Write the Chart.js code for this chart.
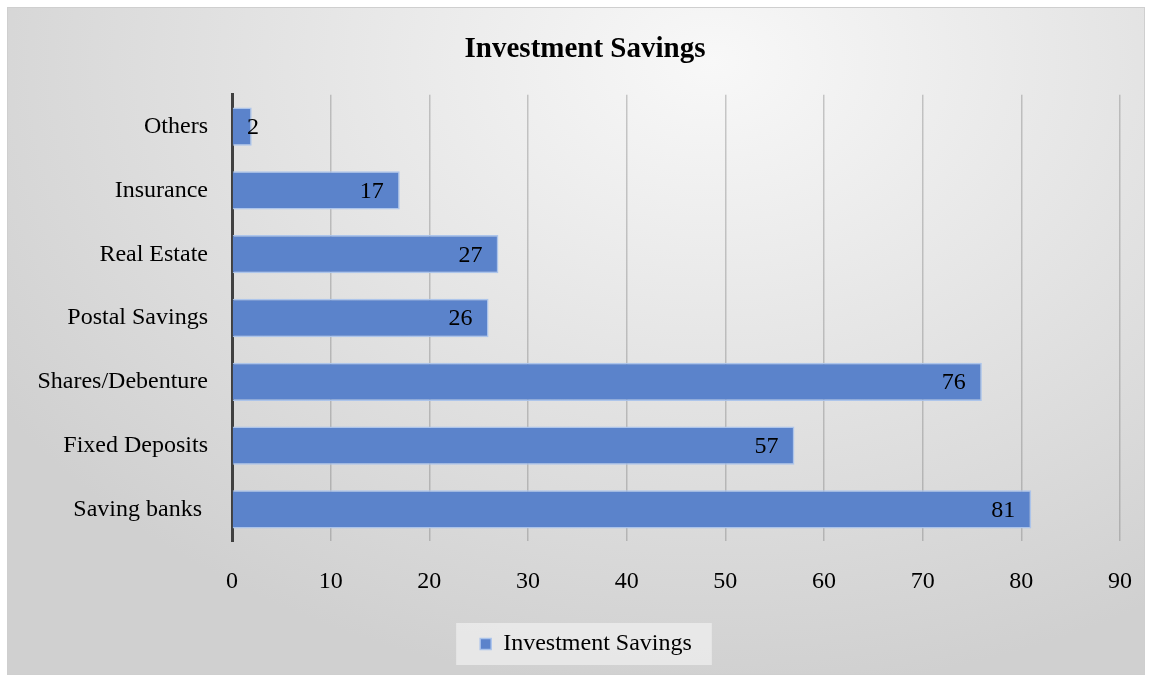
<!DOCTYPE html>
<html>
<head>
<meta charset="utf-8">
<script src="https://cdn.jsdelivr.net/npm/chart.js@4/dist/chart.umd.min.js"></script>
<style>
  html, body { margin:0; padding:0; background:#fff; }
  #wrap {
    position:absolute; left:7px; top:7px; width:1138px; height:668px;
    border:1px solid #cfcfcf; box-sizing:border-box;
    background: radial-gradient(ellipse 75% 95% at 62% 8%, #f8f8f8 0%, #e6e6e6 45%, #d0d0d0 100%);
  }
  canvas { display:block; }
</style>
</head>
<body>
<div id="wrap"><canvas id="c" width="1136" height="666"></canvas></div>
<script>
'use strict';

const categories = ['Others', 'Insurance', 'Real Estate', 'Postal Savings', 'Shares/Debenture', 'Fixed Deposits', 'Saving banks '];
const values = [2, 17, 27, 26, 76, 57, 81];
const seriesName = 'Investment Savings';
const xTicks = [0, 10, 20, 30, 40, 50, 60, 70, 80, 90];

const FONT = "'Liberation Serif', 'Times New Roman', serif";
const LEGEND_SHIFT = 22;
const TITLE_SHIFT = 21;

// values sit near the end of each bar, like excel's "inside end"
const barLabels = {
  id: 'barLabels',
  afterDatasetsDraw(chart) {
    const ctx = chart.ctx;
    const meta = chart.getDatasetMeta(0);
    const base = chart.scales.x.getPixelForValue(0);
    ctx.save();
    ctx.font = '24px ' + FONT;
    ctx.fillStyle = '#000';
    ctx.textAlign = 'right';
    ctx.textBaseline = 'middle';
    meta.data.forEach((bar, i) => {
      const right = Math.max(bar.x - 16, base + 27);
      ctx.fillText(String(values[i]), right, bar.y + 1);
    });
    ctx.restore();
  }
};

// nudge title + legend a bit right and put a light box behind the legend
const legendBox = {
  id: 'legendBox',
  afterLayout(chart) {
    const tb = chart.titleBlock;
    if (tb) { tb.left += TITLE_SHIFT; tb.right += TITLE_SHIFT; }
    const lg = chart.legend;
    if (!lg) return;
    lg.left += LEGEND_SHIFT; lg.right += LEGEND_SHIFT;
    lg.legendHitBoxes.forEach(hb => { hb.left += LEGEND_SHIFT; });
  },
  beforeDraw(chart) {
    const lg = chart.legend;
    if (!lg || !lg.legendHitBoxes.length) return;
    const hb = lg.legendHitBoxes[0];
    const cy = hb.top + hb.height / 2;
    const ctx = chart.ctx;
    ctx.save();
    ctx.fillStyle = 'rgba(235,235,235,0.85)';
    ctx.fillRect(hb.left - 24, cy - 21, hb.width + 44, 42);
    ctx.restore();
  }
};

new Chart(document.getElementById('c'), {
  type: 'bar',
  data: {
    labels: categories,
    datasets: [{
      label: seriesName,
      data: values,
      backgroundColor: '#5B83CB',
      borderColor: 'rgba(170,195,235,0.95)',
      borderWidth: 1.5,
      borderSkipped: 'start',
      barPercentage: 0.6,
      categoryPercentage: 1.0
    }]
  },
  options: {
    indexAxis: 'y',
    responsive: false,
    animation: false,
    layout: { padding: { left: 0, right: 24, top: 0, bottom: 8 } },
    plugins: {
      title: {
        display: true,
        text: 'Investment Savings',
        color: '#000',
        font: { family: FONT, size: 29, weight: 'bold' },
        padding: { top: 24, bottom: 28 }
      },
      legend: {
        position: 'bottom',
        labels: {
          color: '#000',
          font: { family: FONT, size: 24 },
          boxWidth: 11,
          boxHeight: 11,
          padding: 10
        }
      },
      tooltip: { enabled: false }
    },
    scales: {
      x: {
        min: 0, max: 90,
        afterBuildTicks(axis) { axis.ticks = xTicks.map(v => ({ value: v })); },
        afterFit(axis) { axis.paddingLeft = 0; axis.paddingRight = 0; },
        grid: { color: 'rgba(110,110,110,0.35)', lineWidth: 1.5, drawTicks: false },
        border: { display: false },
        ticks: { color: '#000', font: { family: FONT, size: 24 }, padding: 26 }
      },
      y: {
        afterFit(axis) { axis.width = 224; },
        grid: { display: false },
        border: { display: true, color: '#404040', width: 3 },
        ticks: { color: '#000', font: { family: FONT, size: 24 }, padding: 16 }
      }
    }
  },
  plugins: [legendBox, barLabels]
});
</script>
</body>
</html>
